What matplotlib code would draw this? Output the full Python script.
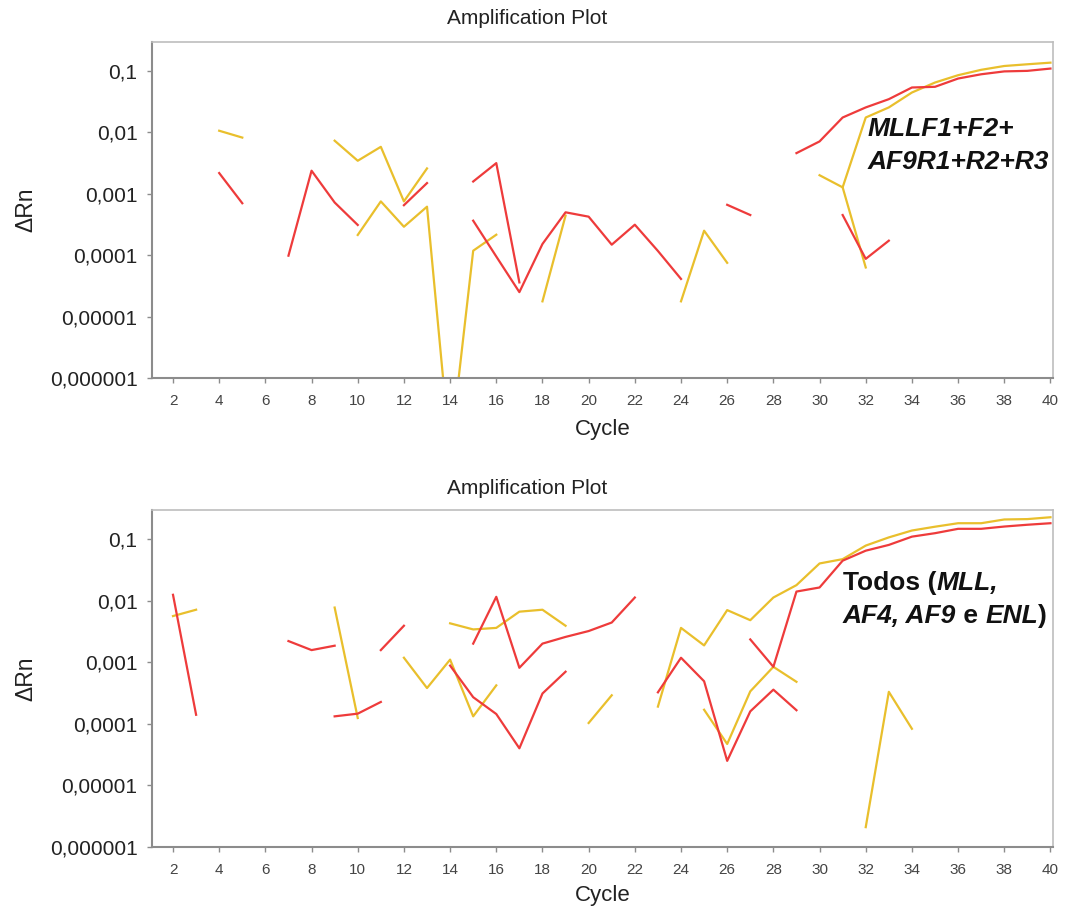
import numpy as np
import matplotlib
matplotlib.use("Agg")
import matplotlib.pyplot as plt
from matplotlib.ticker import FixedLocator, FixedFormatter, NullLocator

N = np.nan
cycles = np.arange(1, 41)

# ---- top panel (MLLF1+F2+ AF9R1+R2+R3) ----
top_yellow_a = [N, N, N, 0.0106, 0.0082, N, N, N, 0.0073, 0.00344,
                0.0058, 0.00075, 0.00258, N, N, N, N, 1.77e-5, 0.00044, N,
                N, N, N, 1.77e-5, 0.00025, 7.5e-5, N, N, N, 0.0020,
                0.00127, 0.0174, 0.0254, 0.0444, 0.0646, 0.085, 0.104, 0.120, 0.128, 0.136]
top_yellow_b = [N, N, N, N, N, N, N, N, N, 0.000213,
                0.00075, 0.00029, 0.000615, 6e-8, 0.000118, 0.000215, N, N, N, N,
                N, N, N, N, N, N, N, N, N, N,
                0.00127, 6.3e-5, N, N, N, N, N, N, N, N]
top_red_a = [N, N, N, 0.00217, 0.0007, N, 9.8e-5, 0.00237, 0.00072, 0.00031,
             N, 0.00065, 0.00149, N, 0.00158, 0.00315, 3.6e-5, N, N, N,
             N, N, N, N, N, 0.00066, 0.00045, N, 0.00458, 0.0071,
             0.0174, 0.0254, 0.0346, 0.0536, 0.055, 0.075, 0.088, 0.098, 0.100, 0.109]
top_red_b = [N, N, N, N, N, N, N, N, N, N,
             N, N, N, N, 0.000364, 9.5e-5, 2.5e-5, 0.000152, 0.000498, 0.000423,
             0.000148, 0.000313, 0.000117, 4.1e-5, N, N, N, N, N, N,
             0.00045, 8.7e-5, 0.000172, N, N, N, N, N, N, N]

# ---- bottom panel (Todos) ----
bot_yellow_a = [N, 0.0056, 0.0071, N, N, N, N, N, 0.0077, 0.000124,
                N, N, N, 0.00427, 0.0034, 0.0036, 0.0066, 0.0071, 0.0039, N,
                N, N, 0.00019, 0.0036, 0.00187, 0.0070, 0.0048, 0.0112, 0.0178, 0.040,
                0.047, 0.078, 0.106, 0.137, 0.158, 0.180, 0.180, 0.207, 0.210, 0.225]
bot_yellow_b = [N, N, N, N, N, N, N, N, N, N,
                N, 0.00118, 0.00038, 0.0011, 0.000132, 0.00042, N, N, N, 0.000103,
                0.00029, N, N, N, 0.000169, 4.7e-5, 0.000336, 0.00084, 0.00048, N,
                N, 2.1e-6, 0.00033, 8.3e-5, N, N, N, N, N, N]
bot_red_a = [N, 0.0124, 0.00014, N, N, N, 0.0022, 0.00157, 0.00185, N,
             0.00157, 0.0039, N, N, 0.002, 0.0115, 0.00081, 0.002, 0.00257, 0.0032,
             0.0044, 0.0112, N, N, N, N, 0.00234, 0.00084, 0.014, 0.0163,
             0.0444, 0.0645, 0.080, 0.109, 0.124, 0.146, 0.146, 0.159, 0.170, 0.180]
bot_red_b = [N, N, N, N, N, N, N, N, 0.000132, 0.000146,
             0.000226, N, N, 0.00088, 0.00027, 0.000144, 4e-5, 0.00031, 0.0007, N,
             N, N, 0.000324, 0.00118, 0.00049, 2.5e-5, 0.000159, 0.000358, 0.000166, N,
             N, N, N, N, N, N, N, N, N, N]

ytick_vals = [0.1, 0.01, 0.001, 0.0001, 0.00001, 0.000001]
ytick_labels = ["0,1", "0,01", "0,001", "0,0001", "0,00001", "0,000001"]
xtick_vals = list(range(2, 41, 2))

RED = "#ee3b3b"
YELLOW = "#e9bf2c"
TXT = "#222222"

plt.rcParams['font.family'] = ['Liberation Sans', 'DejaVu Sans']

W, H = 1066, 910
fig = plt.figure(figsize=(W / 100, H / 100), dpi=100)

def px_axes(l, t, r, b):
    return fig.add_axes([l / W, 1 - b / H, (r - l) / W, (b - t) / H])

ax_top = px_axes(152, 42, 1053, 378)
ax_bot = px_axes(152, 510, 1053, 847)

def style(ax, ya, yb, ra, rb, xpad):
    ax.plot(cycles, yb, color=YELLOW, lw=1.6)
    ax.plot(cycles, ya, color=YELLOW, lw=1.6)
    ax.plot(cycles, rb, color=RED, lw=1.6)
    ax.plot(cycles, ra, color=RED, lw=1.6)
    ax.set_yscale('log')
    ax.set_ylim(1e-6, 0.295)
    ax.set_xlim(1.09, 40.11)
    ax.yaxis.set_major_locator(FixedLocator(ytick_vals))
    ax.yaxis.set_major_formatter(FixedFormatter(ytick_labels))
    ax.yaxis.set_minor_locator(NullLocator())
    ax.set_xticks(xtick_vals)
    ax.set_xticklabels([str(v) for v in xtick_vals])
    for s in ax.spines.values():
        s.set_color("#bdbdbd")
        s.set_linewidth(1.2)
    ax.spines['left'].set_color("#8c8c8c")
    ax.spines['bottom'].set_color("#8c8c8c")
    ax.spines['left'].set_linewidth(1.5)
    ax.spines['bottom'].set_linewidth(1.5)
    ax.tick_params(axis='y', length=3.5, width=1, color="#8c8c8c", pad=7,
                   labelsize=15, labelcolor=TXT)
    ax.tick_params(axis='x', length=3.5, width=1, color="#8c8c8c", pad=8,
                   labelsize=11, labelcolor="#444444")
    ax.set_xlabel("Cycle", fontsize=16, color=TXT, labelpad=xpad)
    ax.set_ylabel("ΔRn", fontsize=16.5, color=TXT)
    ax.yaxis.set_label_coords(-115 / 901, 0.5)

style(ax_top, top_yellow_a, top_yellow_b, top_red_a, top_red_b, 8)
style(ax_bot, bot_yellow_a, bot_yellow_b, bot_red_a, bot_red_b, 6)

fig.text(527 / W, 1 - 18 / H, "Amplification Plot", ha='center', va='center',
         fontsize=15, color=TXT)
fig.text(527 / W, 1 - 489 / H, "Amplification Plot", ha='center', va='center',
         fontsize=15, color=TXT)

# top annotation
fig.text(868 / W, 1 - 136 / H, "MLLF1+F2+", fontsize=19, fontweight='bold',
         fontstyle='italic', color='#111111', ha='left', va='baseline')
fig.text(868 / W, 1 - 169 / H, "AF9R1+R2+R3", fontsize=19, fontweight='bold',
         fontstyle='italic', color='#111111', ha='left', va='baseline')

# bottom annotation (mixed styles)
renderer = fig.canvas.get_renderer()

def rich_line(x_px, y_px, pieces):
    x = x_px
    for txt, it in pieces:
        t = fig.text(x / W, 1 - y_px / H, txt, fontsize=19, fontweight='bold',
                     fontstyle='italic' if it else 'normal', color='#111111',
                     ha='left', va='baseline')
        bb = t.get_window_extent(renderer=renderer)
        x += bb.width

rich_line(843, 590, [("Todos (", False), ("MLL,", True)])
rich_line(843, 623, [("AF4, AF9", True), (" e ", False), ("ENL", True), (")", False)])

fig.savefig("out.png", dpi=100, facecolor='white')
